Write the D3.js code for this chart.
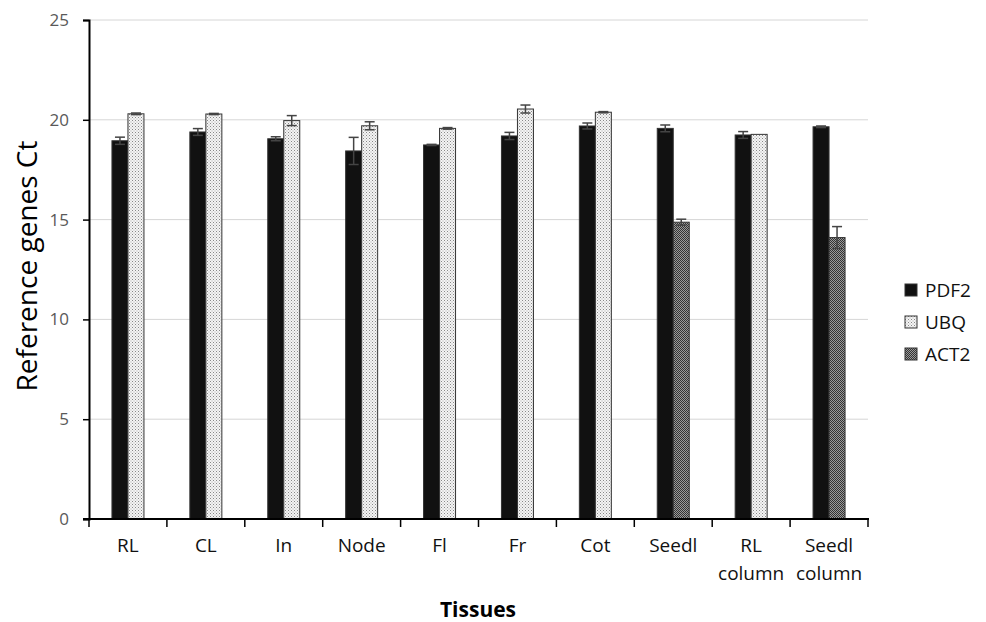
<!DOCTYPE html>
<html><head><meta charset="utf-8">
<script src="https://cdn.jsdelivr.net/npm/d3@7"></script>
<style>body{margin:0;background:#fff}svg{display:block}</style>
</head><body>
<script>
const categories = ["RL","CL","In","Node","Fl","Fr","Cot","Seedl","RL\ncolumn","Seedl\ncolumn"];
const seriesNames = ["PDF2","UBQ","ACT2"];
const pdf2 = [18.95,19.39,19.05,18.44,18.74,19.19,19.69,19.57,19.24,19.65];
const pdf2Err = [0.18,0.17,0.10,0.68,0.03,0.18,0.15,0.17,0.17,0.04];
const second = ["UBQ","UBQ","UBQ","UBQ","UBQ","UBQ","UBQ","ACT2","UBQ","ACT2"];
const secondVal = [20.30,20.29,19.96,19.70,19.57,20.54,20.38,14.87,19.27,14.10];
const secondErr = [0.04,0.03,0.25,0.20,0.04,0.20,0.03,0.15,0.00,0.55];
const yTicks = [0,5,10,15,20,25];

const W=986,H=622;
const FONT="'Open Sans', sans-serif";
const svg=d3.select("body").append("svg").attr("width",W).attr("height",H);
const defs=svg.append("defs");
const p1=defs.append("pattern").attr("id","ubq").attr("width",3).attr("height",3).attr("patternUnits","userSpaceOnUse");
p1.append("rect").attr("width",3).attr("height",3).attr("fill","#f4f4f4");
p1.append("rect").attr("x",0).attr("y",0).attr("width",1).attr("height",1).attr("fill","#888");
p1.append("rect").attr("x",1.5).attr("y",1.5).attr("width",1).attr("height",1).attr("fill","#aaa");
const p2=defs.append("pattern").attr("id","act").attr("width",2).attr("height",2).attr("patternUnits","userSpaceOnUse");
p2.append("rect").attr("width",2).attr("height",2).attr("fill","#9a9a9a");
p2.append("rect").attr("width",1).attr("height",1).attr("fill","#333");
p2.append("rect").attr("x",1).attr("y",1).attr("width",1).attr("height",1).attr("fill","#333");

const fills={PDF2:"#111",UBQ:"url(#ubq)",ACT2:"url(#act)"};

const x=d3.scaleBand().domain(categories).range([89,868]);
const y=d3.scaleLinear().domain([0,25]).range([519,20]);
const bw=16;

const g=svg.append("g");
g.selectAll(".grid").data(yTicks.filter(d=>d>0)).join("line")
 .attr("x1",89).attr("x2",868).attr("y1",d=>y(d)).attr("y2",d=>y(d))
 .attr("stroke","#d6d6d6").attr("stroke-width",1);

const data=[];
categories.forEach((c,i)=>{
  data.push({c,s:"PDF2",v:pdf2[i],e:pdf2Err[i],off:-bw});
  data.push({c,s:second[i],v:secondVal[i],e:secondErr[i],off:0});
});
g.selectAll(".bar").data(data).join("rect")
 .attr("x",d=>x(d.c)+x.bandwidth()/2+d.off).attr("width",bw)
 .attr("y",d=>y(d.v)).attr("height",d=>y(0)-y(d.v))
 .attr("fill",d=>fills[d.s]).attr("stroke","#333").attr("stroke-width",1);
const eb=g.selectAll(".err").data(data.filter(d=>d.e>0)).join("g");
eb.append("line").attr("x1",d=>x(d.c)+x.bandwidth()/2+d.off+bw/2).attr("x2",d=>x(d.c)+x.bandwidth()/2+d.off+bw/2)
 .attr("y1",d=>y(d.v+d.e)).attr("y2",d=>y(d.v-d.e)).attr("stroke","#444").attr("stroke-width",1.5);
eb.selectAll(".cap").data(d=>[{d,v:d.v+d.e},{d,v:d.v-d.e}]).join("line")
 .attr("x1",k=>x(k.d.c)+x.bandwidth()/2+k.d.off+bw/2-5).attr("x2",k=>x(k.d.c)+x.bandwidth()/2+k.d.off+bw/2+5)
 .attr("y1",k=>y(k.v)).attr("y2",k=>y(k.v)).attr("stroke","#444").attr("stroke-width",1.5);

const ya=svg.append("g").attr("transform","translate(89,0)")
 .call(d3.axisLeft(y).tickValues(yTicks).tickSize(6).tickPadding(14));
ya.select(".domain").attr("stroke","#000").attr("stroke-width",2);
ya.selectAll(".tick line").attr("stroke","#000").attr("stroke-width",1.5);
ya.selectAll("text").attr("font-family",FONT).attr("font-size",17).attr("fill","#595959");

const xa=svg.append("g").attr("transform","translate(0,519)");
xa.append("line").attr("x1",83).attr("x2",869).attr("stroke","#000").attr("stroke-width",2);
const tickXs=categories.map(c=>x(c)).concat([x(categories[categories.length-1])+x.bandwidth()]);
xa.selectAll(".xt").data(tickXs).join("line").attr("x1",d=>d).attr("x2",d=>d).attr("y1",0).attr("y2",8)
 .attr("stroke","#000").attr("stroke-width",1.5);
xa.selectAll(".xl").data(categories).join("text")
 .attr("x",c=>x(c)+x.bandwidth()/2).attr("y",33).attr("text-anchor","middle")
 .attr("font-family",FONT).attr("font-size",19).attr("fill","#111")
 .each(function(c){const t=d3.select(this);c.split("\n").forEach((s,i)=>t.append("tspan").attr("x",x(c)+x.bandwidth()/2).attr("dy",i?28:0).text(s));});

svg.append("text").attr("transform","translate(37,266) rotate(-90)").attr("text-anchor","middle")
 .attr("font-family",FONT).attr("font-size",28).attr("fill","#000").text("Reference genes Ct");
svg.append("text").attr("x",478).attr("y",617).attr("text-anchor","middle")
 .attr("font-family",FONT).attr("font-weight","bold").attr("font-size",21).attr("fill","#000").text("Tissues");

const lg=svg.append("g").attr("transform","translate(905,284)");
seriesNames.forEach((s,i)=>{
  const r=lg.append("g").attr("transform",`translate(0,${i*32})`);
  r.append("rect").attr("x",0).attr("y",0).attr("width",12).attr("height",12).attr("fill",fills[s]).attr("stroke","#333").attr("stroke-width",1);
  r.append("text").attr("x",20).attr("y",13).attr("font-family",FONT).attr("font-size",19).attr("fill","#111").text(s);
});
</script>
</body></html>
